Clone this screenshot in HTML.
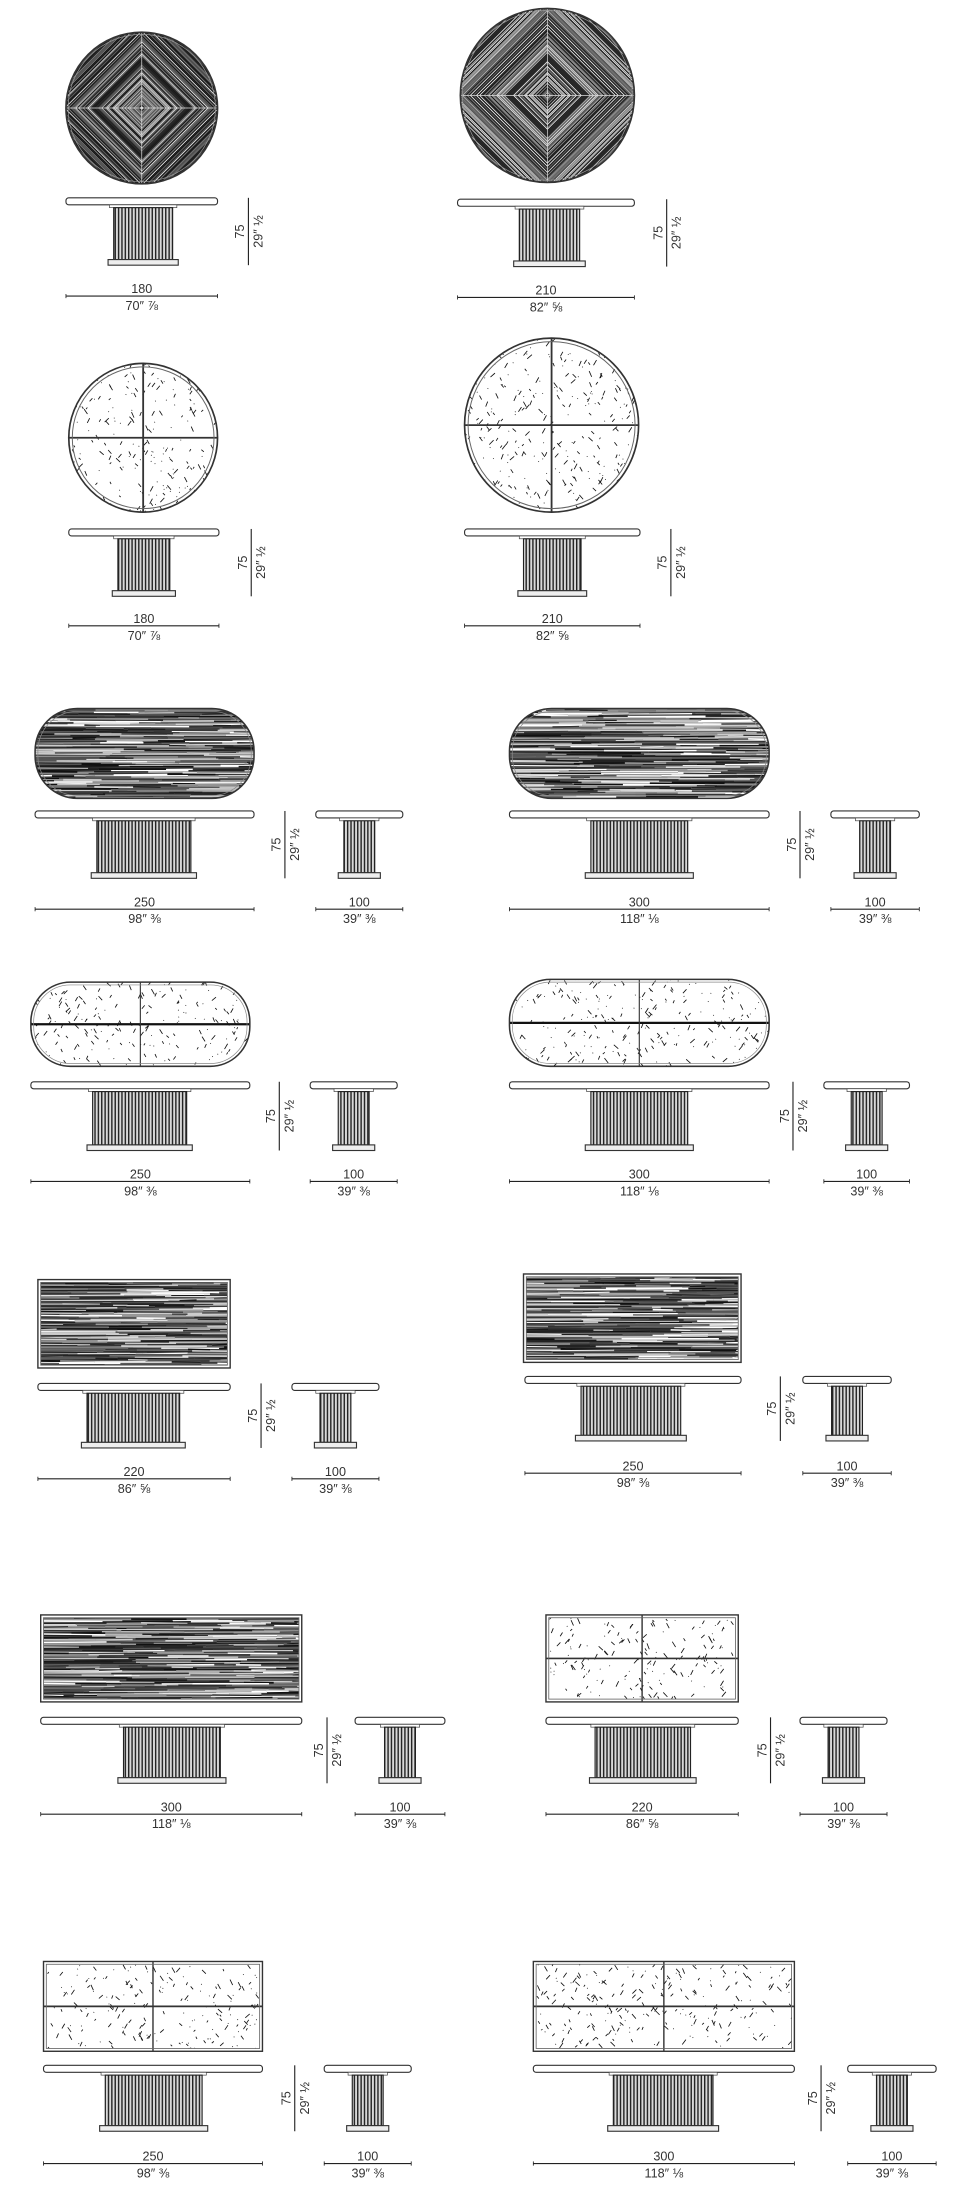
<!DOCTYPE html>
<html><head><meta charset="utf-8"><style>
html,body{margin:0;padding:0;background:#fff;width:960px;height:2200px;overflow:hidden}
svg{display:block}
text{font-family:"Liberation Sans",sans-serif;fill:#333}
</style></head><body>
<svg id="s" xmlns="http://www.w3.org/2000/svg" width="960" height="2200" viewBox="0 0 684 1568" preserveAspectRatio="none">
<defs>
<pattern id="vs" width="2.4" height="10" patternUnits="userSpaceOnUse"><rect width="2.4" height="10" fill="#d8d8d8"/><rect width="1" height="10" fill="#222"/></pattern>
</defs>
</svg>
<script>
const NS='http://www.w3.org/2000/svg',svg=document.getElementById('s');
let seed=7;const R=()=>{seed=(seed*16807)%2147483647;return seed/2147483647};
function el(t,a,p){const e=document.createElementNS(NS,t);for(const k in a)e.setAttribute(k,a[k]);(p||svg).appendChild(e);return e}
let cid=0;
function clip(shape){const id='c'+(cid++);const cp=el('clipPath',{id},svg.querySelector('defs'));el(shape.t,shape.a,cp);return el('g',{'clip-path':'url(#'+id+')'});}
function wood(g,x1,y1,x2,y2){el('rect',{x:x1,y:y1,width:x2-x1,height:y2-y1,fill:'#777'},g);
 for(let y=y1;y<y2;y+=0.9){let x=x1;while(x<x2){const l=10+R()*60;const c=['#111','#333','#555','#999','#ccc','#fff','#222'][Math.floor(R()*7)];
 el('line',{x1:x,y1:y+R()*0.6,x2:Math.min(x+l,x2),y2:y+R()*0.6,stroke:c,'stroke-width':0.5+R()*0.7},g);x+=l;}}}
function marble(g,x1,y1,x2,y2){el('rect',{x:x1,y:y1,width:x2-x1,height:y2-y1,fill:'#fff'},g);
 const n=(x2-x1)*(y2-y1)/45;for(let i=0;i<n;i++){const x=x1+R()*(x2-x1),y=y1+R()*(y2-y1);const l=R()<0.4?0.6:1.5+R()*3;const a=(R()<0.5?-1:1)*(0.7+R()*0.5);
 el('line',{x1:x,y1:y,x2:x+l*Math.cos(a),y2:y+l*Math.sin(a),stroke:'#111','stroke-width':0.6},g);}}
function diamondCircle(cx,cy,r){const g=clip({t:'circle',a:{cx,cy,r}});el('rect',{x:cx-r,y:cy-r,width:2*r,height:2*r,fill:'#333'},g);
 for(let d=1;d<r*1.5;d+=1.1){const c=['#fff','#888','#111','#666','#ccc','#222'][Math.floor(R()*6)];
 el('polygon',{points:`${cx},${cy-d} ${cx+d},${cy} ${cx},${cy+d} ${cx-d},${cy}`,fill:'none',stroke:c,'stroke-width':0.5},g);}
 el('line',{x1:cx-r,y1:cy,x2:cx+r,y2:cy,stroke:'#ddd','stroke-width':0.5},g);el('line',{x1:cx,y1:cy-r,x2:cx,y2:cy+r,stroke:'#ddd','stroke-width':0.5},g);
 el('circle',{cx,cy,r,fill:'none',stroke:'#333','stroke-width':1.2});el('circle',{cx,cy,r:r-1.5,fill:'none',stroke:'#999','stroke-width':0.5});}
function marbleCircle(cx,cy,r){const g=clip({t:'circle',a:{cx,cy,r}});marble(g,cx-r,cy-r,cx+r,cy+r);
 el('line',{x1:cx-r,y1:cy,x2:cx+r,y2:cy,stroke:'#333','stroke-width':1.3},g);el('line',{x1:cx,y1:cy-r,x2:cx,y2:cy+r,stroke:'#333','stroke-width':1.3},g);
 el('circle',{cx,cy,r,fill:'none',stroke:'#333','stroke-width':1.2});el('circle',{cx,cy,r:r-2.5,fill:'none',stroke:'#666','stroke-width':0.7});}
function pill(x1,y1,x2,y2,type){const h=y2-y1,rx=h*0.47;const a={x:x1,y:y1,width:x2-x1,height:h,rx,ry:rx};const g=clip({t:'rect',a});
 if(type=='w')wood(g,x1,y1,x2,y2);else{marble(g,x1,y1,x2,y2);const my=(y1+y2)/2;el('line',{x1,y1:my,x2,y2:my,stroke:'#111','stroke-width':1.6},g);el('line',{x1:(x1+x2)/2,y1,x2:(x1+x2)/2,y2,stroke:'#333','stroke-width':0.8},g);}
 el('rect',Object.assign({fill:'none',stroke:'#333','stroke-width':1.1},a));el('rect',{x:x1+2,y:y1+2,width:x2-x1-4,height:h-4,rx:rx-2,ry:rx-2,fill:'none',stroke:'#888','stroke-width':0.5});}
function rectTop(x1,y1,x2,y2,type){const g=clip({t:'rect',a:{x:x1+2,y:y1+2,width:x2-x1-4,height:y2-y1-4}});if(type=='w')wood(g,x1+2,y1+2,x2-2,y2-2);else{marble(g,x1+2,y1+2,x2-2,y2-2);const my=(y1+y2)/2;
 el('line',{x1,y1:my,x2,y2:my,stroke:'#333','stroke-width':1.2});el('line',{x1:(x1+x2)/2,y1,x2:(x1+x2)/2,y2,stroke:'#333','stroke-width':1});}
 el('rect',{x:x1,y:y1,width:x2-x1,height:y2-y1,fill:'none',stroke:'#333','stroke-width':1});el('rect',{x:x1+2,y:y1+2,width:x2-x1-4,height:y2-y1-4,fill:'none',stroke:'#666','stroke-width':0.6});}
function side(x1,x2,yt,c1,c2,yb){el('rect',{x:x1,y:yt,width:x2-x1,height:5,rx:2,fill:'#fff',stroke:'#333','stroke-width':0.8});
 el('rect',{x:c1-3,y:yt+5,width:c2-c1+6,height:2,fill:'#fff',stroke:'#444','stroke-width':0.5});
 el('rect',{x:c1,y:yt+7,width:c2-c1,height:yb-yt-11,fill:'url(#vs)',stroke:'#222','stroke-width':0.8});
 el('rect',{x:c1-4,y:yb-4,width:c2-c1+8,height:4,fill:'#eee',stroke:'#333','stroke-width':0.8});}
function vdim(x,y1,y2){el('line',{x1:x,y1,x2:x,y2,stroke:'#222','stroke-width':0.8});const m=(y1+y2)/2;
 el('text',{x:x-3,y:m,'font-size':9,'text-anchor':'middle',transform:`rotate(-90 ${x-3} ${m})`}).textContent='75';
 el('text',{x:x+10,y:m,'font-size':9,'text-anchor':'middle',transform:`rotate(-90 ${x+10} ${m})`}).textContent='29″ ½';}
function hdim(x1,x2,y,a,b){el('line',{x1,y1:y,x2,y2:y,stroke:'#222','stroke-width':0.8});el('line',{x1,y1:y-1.5,x2:x1,y2:y+1.5,stroke:'#222','stroke-width':0.6});el('line',{x1:x2,y1:y-1.5,x2,y2:y+1.5,stroke:'#222','stroke-width':0.6});
 const m=(x1+x2)/2;el('text',{x:m,y:y-2,'font-size':9,'text-anchor':'middle'}).textContent=a;el('text',{x:m,y:y+10,'font-size':9,'text-anchor':'middle'}).textContent=b;}
function big(x1,x2,yt,c1,c2,yb,vx,dy,a,b){side(x1,x2,yt,c1,c2,yb);vdim(vx,yt,yb);hdim(x1,x2,dy,a,b);}
function small(x1,x2,yt,yb,dy){const m=(x1+x2)/2;side(x1,x2,yt,m-11,m+11,yb);hdim(x1,x2,dy,'100','39″ ⅜');}
diamondCircle(101,77,54);diamondCircle(390,68,62);
big(47,155,141,81,123,189,177,211,'180','70″ ⅞');big(326,452,142,370,413,190,475,212,'210','82″ ⅝');
marbleCircle(102,312,53);marbleCircle(393,303,62);
big(49,156,377,84,121,425,179,446,'180','70″ ⅞');big(331,456,377,373,414,425,478,446,'210','82″ ⅝');
pill(25,505,181,569,'w');pill(363,505,548,569,'w');
big(25,181,578,69,136,626,203,648,'250','98″ ⅜');small(225,287,578,626,648);
big(363,548,578,421,490,626,570,648,'300','118″ ⅛');small(592,655,578,626,648);
pill(22,700,178,760,'m');pill(363,698,548,760,'m');
big(22,178,771,66,133,820,199,842,'250','98″ ⅜');small(221,283,771,820,842);
big(363,548,771,421,490,820,565,842,'300','118″ ⅛');small(587,648,771,820,842);
rectTop(27,912,164,975,'w');rectTop(373,908,528,971,'w');
big(27,164,986,62,128,1032,186,1054,'220','86″ ⅝');small(208,270,986,1032,1054);
big(374,528,981,414,485,1027,556,1050,'250','98″ ⅜');small(572,635,981,1027,1050);
rectTop(29,1151,215,1213,'w');rectTop(389,1151,526,1213,'m');
big(29,215,1224,88,157,1271,233,1293,'300','118″ ⅛');small(253,317,1224,1271,1293);
big(389,526,1224,424,492,1271,549,1293,'220','86″ ⅝');small(570,632,1224,1271,1293);
rectTop(31,1398,187,1462,'m');rectTop(380,1398,566,1462,'m');
big(31,187,1472,75,144,1519,210,1542,'250','98″ ⅜');small(231,293,1472,1519,1542);
big(380,566,1472,437,508,1519,585,1542,'300','118″ ⅛');small(604,667,1472,1519,1542);
</script>
</body></html>
